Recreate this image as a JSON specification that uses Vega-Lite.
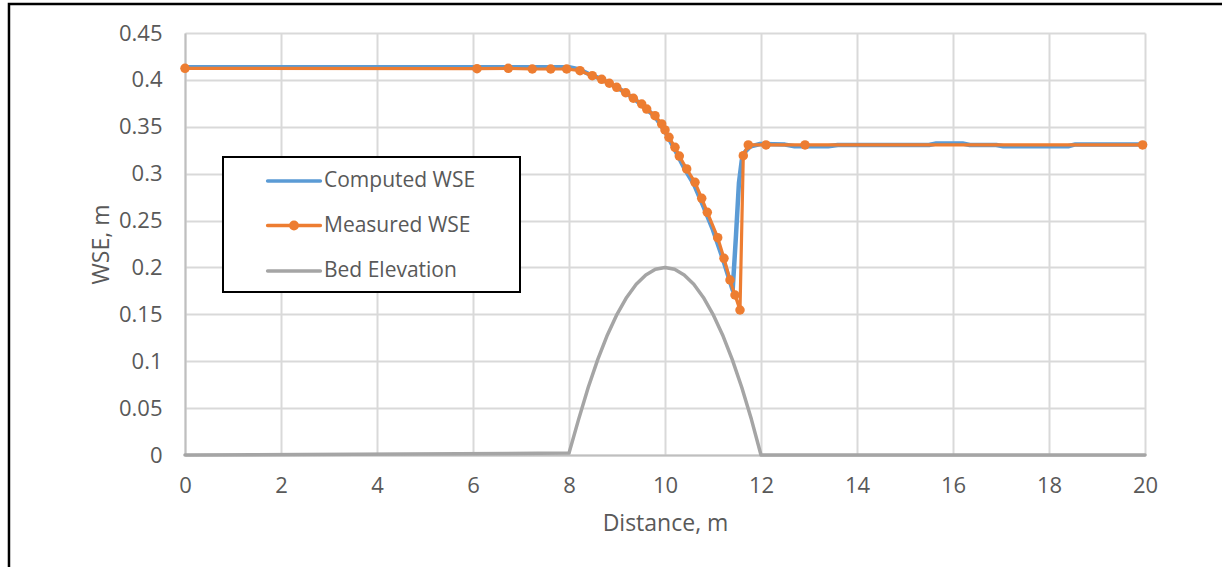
{
  "$schema": "https://vega.github.io/schema/vega-lite/v6.json",
  "autosize": {"type": "none"},
  "width": 960,
  "height": 422,
  "padding": {"left": 185, "top": 33, "right": 77, "bottom": 112},
  "background": "white",
  "config": {
    "view": {"stroke": null},
    "font": "Open Sans",
    "axis": {
      "grid": true,
      "gridColor": "#d9d9d9",
      "gridWidth": 2,
      "domainColor": "#bfbfbf",
      "domainWidth": 2,
      "ticks": false,
      "tickSize": 0,
      "labelFont": "Open Sans",
      "labelFontSize": 22,
      "labelColor": "#595959",
      "labelFlush": false,
      "labelOverlap": false,
      "titleFont": "Open Sans",
      "titleFontSize": 23,
      "titleFontWeight": "normal",
      "titleColor": "#595959"
    },
    "legend": {
      "title": null,
      "orient": "none",
      "legendX": 38,
      "legendY": 124,
      "padding": 11,
      "rowPadding": 21.5,
      "fillColor": "white",
      "strokeColor": "black",
      "symbolSize": 484,
      "symbolStrokeWidth": 3.5,
      "symbolOffset": 47,
      "labelOffset": 17,
      "labelFont": "Open Sans",
      "labelFontSize": 21,
      "labelColor": "#595959",
      "labelLimit": 400
    }
  },
  "datasets": {
    "profiles": [
      {"series": "Computed WSE", "x": 0, "y": 0.4135},
      {"series": "Computed WSE", "x": 8.0, "y": 0.4135},
      {"series": "Computed WSE", "x": 8.2, "y": 0.4115},
      {"series": "Computed WSE", "x": 8.4, "y": 0.4065},
      {"series": "Computed WSE", "x": 8.6, "y": 0.4025},
      {"series": "Computed WSE", "x": 8.8, "y": 0.3975},
      {"series": "Computed WSE", "x": 9.0, "y": 0.392},
      {"series": "Computed WSE", "x": 9.2, "y": 0.3855},
      {"series": "Computed WSE", "x": 9.4, "y": 0.378},
      {"series": "Computed WSE", "x": 9.6, "y": 0.3695},
      {"series": "Computed WSE", "x": 9.8, "y": 0.3605},
      {"series": "Computed WSE", "x": 10.0, "y": 0.345},
      {"series": "Computed WSE", "x": 10.2, "y": 0.326},
      {"series": "Computed WSE", "x": 10.4, "y": 0.306},
      {"series": "Computed WSE", "x": 10.6, "y": 0.289},
      {"series": "Computed WSE", "x": 10.8, "y": 0.265},
      {"series": "Computed WSE", "x": 11.0, "y": 0.24},
      {"series": "Computed WSE", "x": 11.2, "y": 0.21},
      {"series": "Computed WSE", "x": 11.41, "y": 0.176},
      {"series": "Computed WSE", "x": 11.48, "y": 0.235},
      {"series": "Computed WSE", "x": 11.54, "y": 0.29},
      {"series": "Computed WSE", "x": 11.6, "y": 0.3146},
      {"series": "Computed WSE", "x": 11.67, "y": 0.3234},
      {"series": "Computed WSE", "x": 11.77, "y": 0.3288},
      {"series": "Computed WSE", "x": 11.98, "y": 0.3316},
      {"series": "Computed WSE", "x": 12.5, "y": 0.331},
      {"series": "Computed WSE", "x": 12.7, "y": 0.3292},
      {"series": "Computed WSE", "x": 13.4, "y": 0.3292},
      {"series": "Computed WSE", "x": 13.6, "y": 0.3306},
      {"series": "Computed WSE", "x": 15.5, "y": 0.3306},
      {"series": "Computed WSE", "x": 15.65, "y": 0.3322},
      {"series": "Computed WSE", "x": 16.2, "y": 0.3322},
      {"series": "Computed WSE", "x": 16.35, "y": 0.3306},
      {"series": "Computed WSE", "x": 16.9, "y": 0.3306},
      {"series": "Computed WSE", "x": 17.05, "y": 0.3292},
      {"series": "Computed WSE", "x": 18.4, "y": 0.3292},
      {"series": "Computed WSE", "x": 18.55, "y": 0.3312},
      {"series": "Computed WSE", "x": 20, "y": 0.3312},

      {"series": "Measured WSE", "x": 0, "y": 0.4123},
      {"series": "Measured WSE", "x": 6.083, "y": 0.412},
      {"series": "Measured WSE", "x": 6.735, "y": 0.4123},
      {"series": "Measured WSE", "x": 7.235, "y": 0.4116},
      {"series": "Measured WSE", "x": 7.619, "y": 0.4116},
      {"series": "Measured WSE", "x": 7.952, "y": 0.4116},
      {"series": "Measured WSE", "x": 8.229, "y": 0.4098},
      {"series": "Measured WSE", "x": 8.485, "y": 0.4045},
      {"series": "Measured WSE", "x": 8.681, "y": 0.4006},
      {"series": "Measured WSE", "x": 8.84, "y": 0.3964},
      {"series": "Measured WSE", "x": 8.994, "y": 0.3921},
      {"series": "Measured WSE", "x": 9.181, "y": 0.3863},
      {"series": "Measured WSE", "x": 9.34, "y": 0.3804},
      {"series": "Measured WSE", "x": 9.515, "y": 0.3743},
      {"series": "Measured WSE", "x": 9.619, "y": 0.3689},
      {"series": "Measured WSE", "x": 9.792, "y": 0.3618},
      {"series": "Measured WSE", "x": 9.931, "y": 0.353},
      {"series": "Measured WSE", "x": 10.0, "y": 0.3466},
      {"series": "Measured WSE", "x": 10.083, "y": 0.3388},
      {"series": "Measured WSE", "x": 10.208, "y": 0.3281},
      {"series": "Measured WSE", "x": 10.298, "y": 0.3188},
      {"series": "Measured WSE", "x": 10.452, "y": 0.305},
      {"series": "Measured WSE", "x": 10.625, "y": 0.2908},
      {"series": "Measured WSE", "x": 10.765, "y": 0.2737},
      {"series": "Measured WSE", "x": 10.881, "y": 0.2588},
      {"series": "Measured WSE", "x": 11.098, "y": 0.2317},
      {"series": "Measured WSE", "x": 11.229, "y": 0.2097},
      {"series": "Measured WSE", "x": 11.354, "y": 0.1866},
      {"series": "Measured WSE", "x": 11.458, "y": 0.1706},
      {"series": "Measured WSE", "x": 11.5625, "y": 0.1546},
      {"series": "Measured WSE", "x": 11.631, "y": 0.3192},
      {"series": "Measured WSE", "x": 11.735, "y": 0.3306},
      {"series": "Measured WSE", "x": 12.104, "y": 0.3306},
      {"series": "Measured WSE", "x": 12.917, "y": 0.3306},
      {"series": "Measured WSE", "x": 19.95, "y": 0.3306},

      {"series": "Bed Elevation", "x": 0, "y": 0},
      {"series": "Bed Elevation", "x": 8.0, "y": 0.002},
      {"series": "Bed Elevation", "x": 8.2, "y": 0.038},
      {"series": "Bed Elevation", "x": 8.4, "y": 0.072},
      {"series": "Bed Elevation", "x": 8.6, "y": 0.102},
      {"series": "Bed Elevation", "x": 8.8, "y": 0.128},
      {"series": "Bed Elevation", "x": 9.0, "y": 0.15},
      {"series": "Bed Elevation", "x": 9.2, "y": 0.168},
      {"series": "Bed Elevation", "x": 9.4, "y": 0.182},
      {"series": "Bed Elevation", "x": 9.6, "y": 0.192},
      {"series": "Bed Elevation", "x": 9.8, "y": 0.198},
      {"series": "Bed Elevation", "x": 10.0, "y": 0.2},
      {"series": "Bed Elevation", "x": 10.2, "y": 0.198},
      {"series": "Bed Elevation", "x": 10.4, "y": 0.192},
      {"series": "Bed Elevation", "x": 10.6, "y": 0.182},
      {"series": "Bed Elevation", "x": 10.8, "y": 0.168},
      {"series": "Bed Elevation", "x": 11.0, "y": 0.15},
      {"series": "Bed Elevation", "x": 11.2, "y": 0.128},
      {"series": "Bed Elevation", "x": 11.4, "y": 0.102},
      {"series": "Bed Elevation", "x": 11.6, "y": 0.072},
      {"series": "Bed Elevation", "x": 11.8, "y": 0.038},
      {"series": "Bed Elevation", "x": 12.0, "y": 0},
      {"series": "Bed Elevation", "x": 20, "y": 0}
    ]
  },
  "layer": [
    {
      "description": "chart-area border",
      "data": {"values": [{}]},
      "mark": {"type": "rect", "fill": null, "stroke": "black", "strokeWidth": 2.5, "clip": false},
      "encoding": {
        "x": {"datum": -3.667, "type": "quantitative", "scale": {"domain": [0, 20], "nice": false}},
        "x2": {"datum": 22},
        "y": {"datum": 0.4809, "type": "quantitative", "scale": {"domain": [0, 0.45], "nice": false}},
        "y2": {"datum": -0.15}
      }
    },
    {
      "data": {"name": "profiles"},
      "encoding": {
        "x": {
          "field": "x", "type": "quantitative",
          "scale": {"domain": [0, 20], "nice": false, "zero": false},
          "axis": {
            "title": "Distance, m",
            "values": [0, 2, 4, 6, 8, 10, 12, 14, 16, 18, 20],
            "format": "d",
            "labelPadding": 20,
            "titlePadding": 16
          }
        },
        "y": {
          "field": "y", "type": "quantitative",
          "scale": {"domain": [0, 0.45], "nice": false},
          "axis": {
            "title": "WSE, m",
            "values": [0, 0.05, 0.1, 0.15, 0.2, 0.25, 0.3, 0.35, 0.4, 0.45],
            "format": "~g",
            "labelPadding": 23,
            "titlePadding": 5
          }
        },
        "color": {
          "field": "series", "type": "nominal",
          "scale": {
            "domain": ["Computed WSE", "Measured WSE", "Bed Elevation"],
            "range": ["#5b9bd5", "#ed7d31", "#a5a5a5"]
          },
          "legend": {
            "orient": "none",
            "encode": {
              "legend": {"update": {"strokeWidth": {"value": 2}}},
              "symbols": {"update": {"strokeCap": {"value": "round"}, "opacity": {"value": 1}}}
            }
          }
        }
      },
      "layer": [
        {
          "transform": [{"filter": "datum.series === 'Computed WSE'"}],
          "mark": {"type": "line", "strokeWidth": 4.5, "strokeCap": "round", "strokeJoin": "round"}
        },
        {
          "transform": [{"filter": "datum.series === 'Measured WSE'"}],
          "mark": {"type": "line", "strokeWidth": 3.2, "strokeCap": "round", "strokeJoin": "round"}
        },
        {
          "transform": [{"filter": "datum.series === 'Measured WSE'"}],
          "mark": {"type": "point", "filled": true, "size": 90, "opacity": 1},
          "encoding": {"color": {"value": "#ed7d31"}}
        },
        {
          "transform": [{"filter": "datum.series === 'Bed Elevation'"}],
          "mark": {"type": "line", "strokeWidth": 3.5, "strokeCap": "round", "strokeJoin": "round"}
        },
        {
          "description": "legend key glyphs: a plain stroke per series, with a dot on the measured one",
          "transform": [{"filter": "false"}],
          "mark": {"type": "point", "filled": true, "opacity": 1},
          "encoding": {
            "shape": {
              "field": "series", "type": "nominal",
              "scale": {
                "domain": ["Computed WSE", "Measured WSE", "Bed Elevation"],
                "range": [
                  "M-2.4,0L2.4,0M18.85,0",
                  "M-2.4,0L2.4,0M0.29,0C0.29,0.16,0.16,0.29,0,0.29C-0.16,0.29,-0.29,0.16,-0.29,0C-0.29,-0.16,-0.16,-0.29,0,-0.29C0.16,-0.29,0.29,-0.16,0.29,0ZM18.85,0",
                  "M-2.4,0L2.4,0M18.85,0"
                ]
              },
              "legend": {"orient": "none"}
            }
          }
        }
      ]
    }
  ]
}
